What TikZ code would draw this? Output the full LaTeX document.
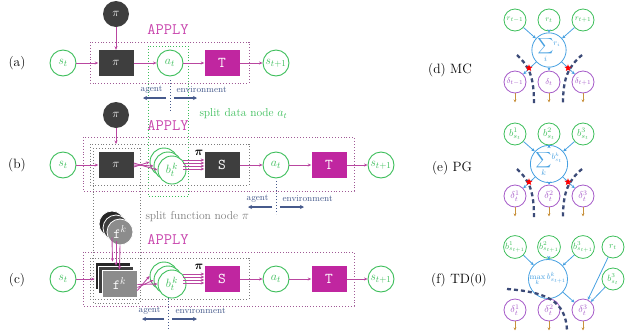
\documentclass[tikz,border=0pt]{standalone}
\usepackage{amsmath}
\usetikzlibrary{arrows.meta,shapes.geometric,calc}
\definecolor{grn}{RGB}{60,190,90}
\definecolor{mag}{RGB}{192,38,160}
\definecolor{dk}{RGB}{62,62,62}
\definecolor{edgc}{RGB}{185,70,160}
\definecolor{apb}{RGB}{160,90,150}
\definecolor{gry}{RGB}{125,125,125}
\definecolor{slate}{RGB}{70,90,140}
\definecolor{blu}{RGB}{70,160,225}
\definecolor{pur}{RGB}{165,90,200}
\definecolor{brn}{RGB}{200,145,60}
\definecolor{dsh}{RGB}{60,75,120}
\begin{document}
\begin{tikzpicture}[x=1pt,y=-1pt,
  every node/.style={font=\fontsize{13}{15}\selectfont},
  gnode/.style={circle,draw=grn,line width=0.9pt,minimum size=26pt,inner sep=0pt,text=grn,fill=white},
  bnode/.style={gnode,minimum size=28pt},
  dbox/.style={rectangle,fill=dk,minimum width=35pt,minimum height=26pt,inner sep=0pt,text=white},
  mbox/.style={dbox,fill=mag},
  boxtt/.style={font=\fontsize{15}{17}\selectfont\ttfamily},
  pcirc/.style={circle,fill=dk,minimum size=26pt,inner sep=0pt,text=white},
  fbox/.style={rectangle,draw=white,line width=0.8pt,minimum width=35pt,minimum height=27pt,inner sep=0pt,text=white,font=\fontsize{14}{16}\selectfont},
  fcirc/.style={circle,draw=white,line width=0.8pt,minimum size=26pt,inner sep=0pt,text=white,font=\fontsize{14}{16}\selectfont},
  ed/.style={draw=edgc,line width=0.9pt,-{Stealth[length=3.5pt,width=3pt]}},
  applybox/.style={draw=apb,dotted,line width=0.9pt},
  graybox/.style={draw=gry,dotted,line width=0.9pt},
  grnbox/.style={draw=grn,dotted,line width=0.9pt},
  applytxt/.style={text=mag!85,font=\fontsize{16}{18}\selectfont\ttfamily},
  envline/.style={draw=slate,dotted,line width=1pt},
  envarr/.style={draw=slate,line width=1.1pt,-{Stealth[length=4pt,width=4pt]}},
  envtxt/.style={text=slate,font=\fontsize{9}{10}\selectfont},
  lbl/.style={font=\fontsize{13.5}{15}\selectfont},
  rg/.style={circle,draw=grn,line width=0.8pt,minimum size=22pt,inner sep=0pt,text=grn,font=\fontsize{8}{9}\selectfont},
  rp/.style={rg,draw=pur,text=pur},
  rb/.style={circle,draw=blu,line width=0.8pt,minimum size=31pt,inner sep=0pt,text=blu,font=\fontsize{11}{12}\selectfont},
  barr/.style={draw=blu,line width=0.8pt,-{Stealth[length=3.2pt,width=3.2pt]}},
  brarr/.style={draw=brn,line width=1pt,-{Stealth[length=3pt,width=3pt]}},
  dashc/.style={draw=dsh,line width=2.3pt,dash pattern=on 4pt off 3pt},
  rstar/.style={star,star points=5,star point ratio=2.3,fill=red,inner sep=0pt,minimum size=7.5pt}
]
\useasboundingbox (0,0) rectangle (635,330);

% ================= (a) =================
\node[lbl] (la) at (17,63) {(a)};
\draw[grnbox] (148,46) rectangle (188,196);
\draw[applybox] (90,42) rectangle (249,83);
\node[applytxt] (apa) at (168,29) {APPLY};
\node[gnode] (sa) at (63,63) {$s_t$};
\node[dbox] (pia) at (116,63) {$\pi$};
\node[pcirc] (pca) at (116,14) {$\pi$};
\node[gnode] (aa) at (170,63) {$a_t$};
\node[mbox,boxtt] (Ta) at (222,63) {T};
\node[gnode] (sa2) at (276,63) {$s_{t+1}$};
\draw[ed] (sa) -- (pia);
\draw[ed] (pca) -- (pia);
\draw[ed] (pia) -- (aa);
\draw[ed] (aa) -- (Ta);
\draw[ed] (Ta) -- (sa2);
\coordinate (ea1) at (170,80);
\coordinate (ea2) at (170,112);
\draw[envline] (ea1) -- (ea2);
\node[envtxt,anchor=east] (aga) at (166,90) {agent};
\node[envtxt,anchor=west] (ena) at (173,90) {environment};
\coordinate (aal) at (143,98); \coordinate (aar) at (197,98);
\coordinate (aal0) at (166,98); \coordinate (aar0) at (174,98);
\draw[envarr] (aal0) -- (aal);
\draw[envarr] (aar0) -- (aar);

% ================= (b) =================
\node[lbl] (lb) at (17,165) {(b)};
\draw[applybox] (83,137) rectangle (354,191);
\draw[graybox] (90,144) rectangle (249,185);
\draw[graybox] (93,148) rectangle (140,303);
\node[applytxt] (apb) at (168,125) {APPLY};
\node[text=grn,anchor=west,font=\fontsize{11.5}{13}\selectfont] (sdn) at (196,114) {split data node $a_t$};
\node[gnode] (sb) at (63,165) {$s_t$};
\node[pcirc] (pcb) at (116,115) {$\pi$};
\coordinate (pbtop) at (116,144);
\node[dbox] (pib) at (116,165) {$\pi$};
\node[bnode] (bkb1) at (164,162) {};
\node[bnode] (bkb2) at (168,166) {};
\node[bnode] (bkb3) at (172,170) {$b_t^{\,k}$};
\node (pilb) at (199,153) {$\boldsymbol{\pi}$};
\node[dbox,boxtt] (Sb) at (222,165) {S};
\node[gnode] (ab) at (276,165) {$a_t$};
\node[mbox,boxtt] (Tb) at (329,165) {T};
\node[gnode] (sb2) at (381,165) {$s_{t+1}$};
\draw[ed] (sb) -- (pib);
\draw[ed] (pcb) -- (pbtop);
\draw[ed] ($(pib.east)+(0,2)$) -- (bkb1.west);
\draw[ed] (pib.east) -- (bkb2.west);
\draw[ed] ($(pib.east)+(0,-2)$) -- (bkb3.west);
\foreach \dy in {-5,-2,1,4}{
  \draw[ed] ($(Sb.west)+(-21,\dy)$) -- ($(Sb.west)+(0,\dy)$);
}
\draw[ed] (Sb) -- (ab);
\draw[ed] (ab) -- (Tb);
\draw[ed] (Tb) -- (sb2);
\coordinate (eb1) at (276,181);
\coordinate (eb2) at (276,214);
\draw[envline] (eb1) -- (eb2);
\node[envtxt,anchor=east] (agb) at (272,199) {agent};
\node[envtxt,anchor=west] (enb) at (279,199) {environment};
\coordinate (bal) at (248,207); \coordinate (bar) at (304,207);
\coordinate (bal0) at (272,207); \coordinate (bar0) at (280,207);
\draw[envarr] (bal0) -- (bal);
\draw[envarr] (bar0) -- (bar);

% ================= (c) =================
\node[lbl] (lc) at (17,280) {(c)};
\draw[applybox] (83,252) rectangle (354,306);
\draw[graybox] (90,258) rectangle (249,299);
\node[applytxt] (apc) at (168,239) {APPLY};
\node[text=gry,anchor=west,font=\fontsize{11.5}{13}\selectfont] (sfn) at (142,217) {split function node $\pi$};
\node[gnode] (sc) at (63,279) {$s_t$};
\node[fcirc,fill=black!85] (fc1) at (112,224) {};
\node[fcirc,fill=dk] (fc2) at (116,228) {};
\node[fcirc,fill=black!45] (fc3) at (120,232) {\texttt{f}$^k$};
\node[fbox,fill=black!85] (fb1) at (112.5,275.5) {};
\node[fbox,fill=dk] (fb2) at (116,279.5) {};
\node[fbox,fill=black!45] (fb3) at (119.5,283.5) {\texttt{f}$^k$};
\draw[ed] (fc1.south) -- (fb1.north);
\draw[ed] (fc2.south) -- (fb2.north);
\draw[ed] (fc3.south) -- (fb3.north);
\draw[ed] (sc) -- (sc -| fb1.west);
\node[bnode] (bkc1) at (164,276) {};
\node[bnode] (bkc2) at (168,280) {};
\node[bnode] (bkc3) at (172,284) {$b_t^{\,k}$};
\draw[ed] ($(fb3.east)+(0,7)$) -- (bkc1.west);
\draw[ed] ($(fb3.east)+(0,4)$) -- (bkc2.west);
\draw[ed] ($(fb3.east)+(0,1)$) -- (bkc3.west);
\node (pilc) at (199,267) {$\boldsymbol{\pi}$};
\node[mbox,boxtt] (Sc) at (222,279) {S};
\node[gnode] (ac) at (276,279) {$a_t$};
\node[mbox,boxtt] (Tc) at (329,279) {T};
\node[gnode] (sc2) at (381,279) {$s_{t+1}$};
\foreach \dy in {-5,-2,1,4}{
  \draw[ed] ($(Sc.west)+(-21,\dy)$) -- ($(Sc.west)+(0,\dy)$);
}
\draw[ed] (Sc) -- (ac);
\draw[ed] (ac) -- (Tc);
\draw[ed] (Tc) -- (sc2);
\coordinate (ec1) at (168,298);
\coordinate (ec2) at (168,330);
\draw[envline] (ec1) -- (ec2);
\node[envtxt,anchor=east] (agc) at (164,311) {agent};
\node[envtxt,anchor=west] (enc) at (172,311) {environment};
\coordinate (cal) at (142,319); \coordinate (car) at (197,319);
\coordinate (cal0) at (164,319); \coordinate (car0) at (172,319);
\draw[envarr] (cal0) -- (cal);
\draw[envarr] (car0) -- (car);

% ================= (d) MC =================
\node[lbl] (ld) at (450,70) {(d) MC};
\node[rg] (d1) at (515,20) {$r_{t-1}$};
\node[rg] (d2) at (549,20) {$r_t$};
\node[rg] (d3) at (583,20) {$r_{t+1}$};
\node[rb] (ds) at (549,50) {$\displaystyle\sum_i$\raisebox{3pt}{$\scriptstyle r_i$}};
\node[rp] (dd1) at (515,82) {$\delta_{t-1}$};
\node[rp] (dd2) at (549,82) {$\delta_t$};
\node[rp] (dd3) at (583,82) {$\delta_{t+1}$};
\foreach \n in {d1,d2,d3}{\draw[barr] (\n) -- (ds);}
\foreach \n in {dd1,dd2,dd3}{\draw[barr] (ds) -- (\n); \draw[brarr] (\n.south) -- ++(0,9);}
\draw[dashc] (517,55) .. controls (530,67) and (534,78) .. (534,104);
\draw[dashc] (582,55) .. controls (568,67) and (563,78) .. (563,104);
\node[rstar] (st1) at (529,68) {};
\node[rstar] (st2) at (568,68) {};

% ================= (e) PG =================
\node[lbl] (le) at (452,168) {(e) PG};
\node[rg,font=\fontsize{10}{11}\selectfont] (e1) at (515,134) {$b^1_{s_t}$};
\node[rg,font=\fontsize{10}{11}\selectfont] (e2) at (549,134) {$b^2_{s_t}$};
\node[rg,font=\fontsize{10}{11}\selectfont] (e3) at (583,134) {$b^3_{s_t}$};
\node[rb] (es) at (549,164) {$\displaystyle\sum_k$\raisebox{3pt}{$\scriptstyle b^k_{s_t}$}};
\node[rp,font=\fontsize{10}{11}\selectfont] (ed1) at (515,196) {$\delta^1_t$};
\node[rp,font=\fontsize{10}{11}\selectfont] (ed2) at (549,196) {$\delta^2_t$};
\node[rp,font=\fontsize{10}{11}\selectfont] (ed3) at (583,196) {$\delta^3_t$};
\foreach \n in {e1,e2,e3}{\draw[barr] (\n) -- (es);}
\foreach \n in {ed1,ed2,ed3}{\draw[barr] (es) -- (\n); \draw[brarr] (\n.south) -- ++(0,9);}
\draw[dashc] (517,169) .. controls (530,181) and (534,192) .. (534,218);
\draw[dashc] (582,169) .. controls (568,181) and (563,192) .. (563,218);
\node[rstar] (st3) at (529,182) {};
\node[rstar] (st4) at (568,182) {};

% ================= (f) TD(0) =================
\node[lbl] (lf) at (459,280) {(f) TD(0)};
\node[rg,font=\fontsize{9}{10}\selectfont] (f1) at (515,247) {$b^1_{s_{t+1}}$};
\node[rg,font=\fontsize{9}{10}\selectfont] (f2) at (549,247) {$b^2_{s_{t+1}}$};
\node[rg,font=\fontsize{9}{10}\selectfont] (f3) at (583,247) {$b^3_{s_{t+1}}$};
\node[rg,font=\fontsize{9}{10}\selectfont] (f4) at (613,247) {$r_t$};
\node[rb,font=\fontsize{8.5}{9}\selectfont] (fm) at (548,279) {$\max\limits_k b^k_{s_{t+1}}$};
\node[rg,font=\fontsize{9}{10}\selectfont] (f5) at (613,279) {$b^3_{s_t}$};
\node[rp,font=\fontsize{10}{11}\selectfont] (fd1) at (515,310) {$\delta^1_t$};
\node[rp,font=\fontsize{10}{11}\selectfont] (fd2) at (549,310) {$\delta^2_t$};
\node[rp,font=\fontsize{10}{11}\selectfont] (fd3) at (583,310) {$\delta^3_t$};
\foreach \n in {f1,f2,f3}{\draw[barr] (\n) -- (fm);}
\draw[barr] (fm) -- (fd3);
\draw[barr] (f4) -- (fd3);
\draw[barr] (f5) -- (fd3);
\foreach \n in {fd1,fd2,fd3}{\draw[brarr] (\n.south) -- ++(0,9);}
\draw[dashc] (507,289) .. controls (545,292) and (566,300) .. (567,331);
\end{tikzpicture}
\end{document}
